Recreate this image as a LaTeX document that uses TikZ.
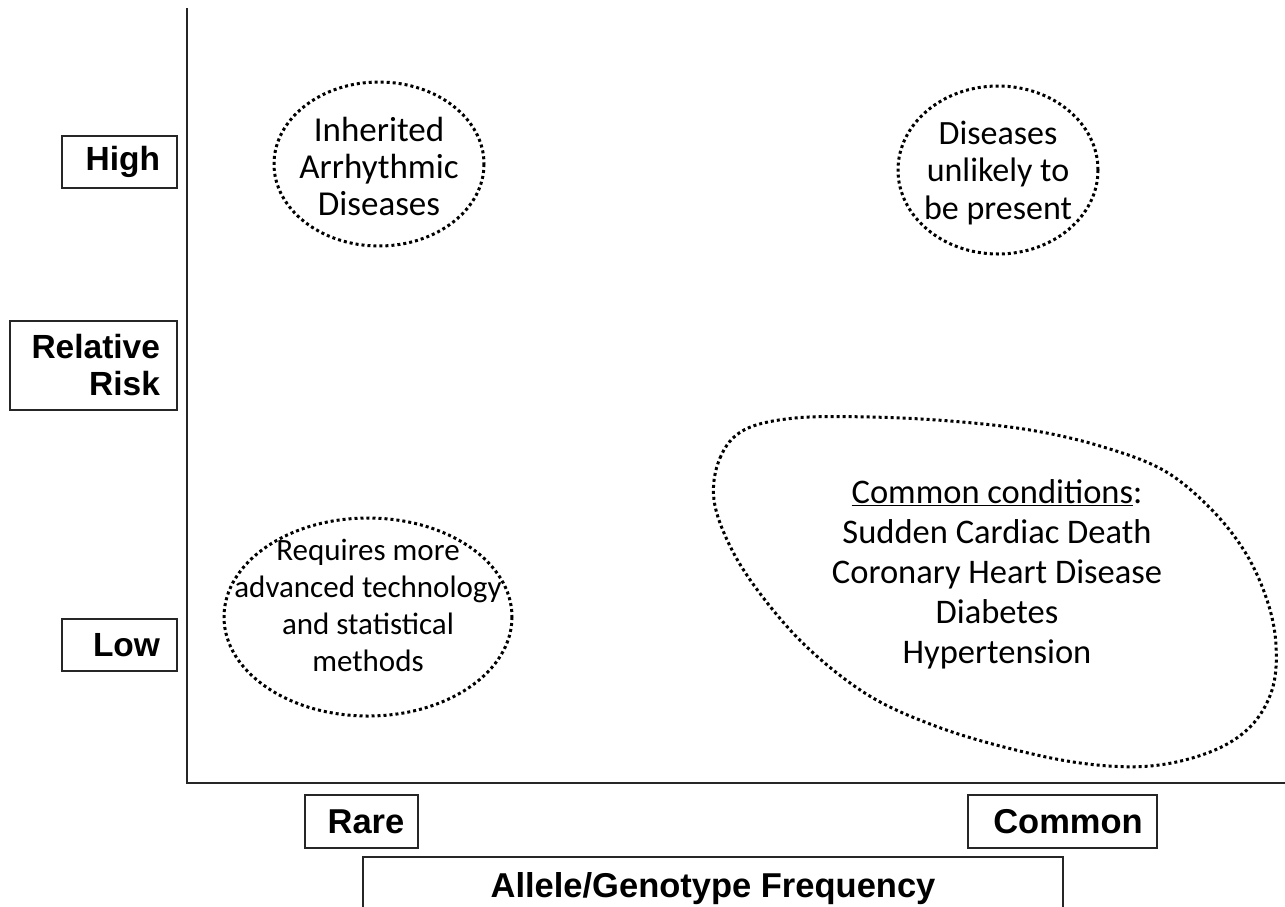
\documentclass[tikz,border=0pt]{standalone}
\usepackage{fontspec}
\setmainfont{Carlito}
\setsansfont{Liberation Sans}
\begin{document}
\begin{tikzpicture}[x=1pt,y=-1pt,
  lab/.style={draw=black!85, line width=1.4pt, inner sep=0pt,
    font=\sffamily\bfseries\fontsize{33.5}{37}\selectfont},
  xlab/.style={lab, font=\sffamily\bfseries\fontsize{34.5}{37}\selectfont},
  dotted3/.style={draw, line width=3pt, dash pattern=on 3pt off 3pt},
  txt/.style={align=center, inner sep=0pt},
  axis/.style={draw=black!85, line width=2.5pt}]
\useasboundingbox (0,0) rectangle (1285,906);
\clip (0,0) rectangle (1285,906);
% axes
\coordinate (top) at (187,8);
\coordinate (orig) at (187,783);
\coordinate (xend) at (1290,783);
\draw[axis] (top) -- (orig) -- (xend);
% y labels
\node[lab, minimum width=115, minimum height=52, text width=81, align=right] (high) at (119.5,162) {High};
\node[lab, minimum width=167, minimum height=89, text width=133, align=right] (rr) at (93.5,365.5) {Relative\\Risk};
\node[lab, minimum width=115, minimum height=52, text width=81, align=right] (low) at (119.5,645) {Low};
% x labels
\node[xlab, minimum width=113, minimum height=53] (rare) at (361.5,821.5) {\hspace*{9pt}Rare};
\node[xlab, minimum width=189, minimum height=53] (common) at (1062.5,821.5) {\hspace*{11pt}Common};
\node[xlab, minimum width=700, minimum height=64] (freq) at (713,889) {\raisebox{4pt}{Allele/Genotype Frequency}};
% regions
\draw[dotted3] (379,164) ellipse [x radius=105, y radius=82];
\node[txt, font=\fontsize{35}{37}\selectfont] (inh) at (379,166) {Inherited\\Arrhythmic\\Diseases};
\draw[dotted3] (998,170) ellipse [x radius=100, y radius=84];
\node[txt, font=\fontsize{34}{37.5}\selectfont] (unl) at (998,173) {Diseases\\unlikely to\\be present};
\draw[dotted3] (368,617) ellipse [x radius=144, y radius=99];
\node[txt, font=\fontsize{31}{37}\selectfont] (req) at (368,605) {Requires more\\advanced technology\\and statistical\\methods};
\draw[dotted3] plot[smooth cycle, tension=0.6] coordinates {
  (714,500) (720,458) (744,430) (795,418) (870,417) (950,421) (1030,430)
  (1100,446) (1163,470) (1210,508) (1245,552) (1267,600) (1276,645)
  (1272,690) (1250,727) (1210,752) (1150,766) (1080,763) (1000,746)
  (930,724) (868,695) (810,650) (765,600) (732,550)};
\node[txt, font=\fontsize{34.5}{40}\selectfont] (cc) at (997,574) {\underline{Common conditions}:\\Sudden Cardiac Death\\Coronary Heart Disease\\Diabetes\\Hypertension};
\end{tikzpicture}
\end{document}
